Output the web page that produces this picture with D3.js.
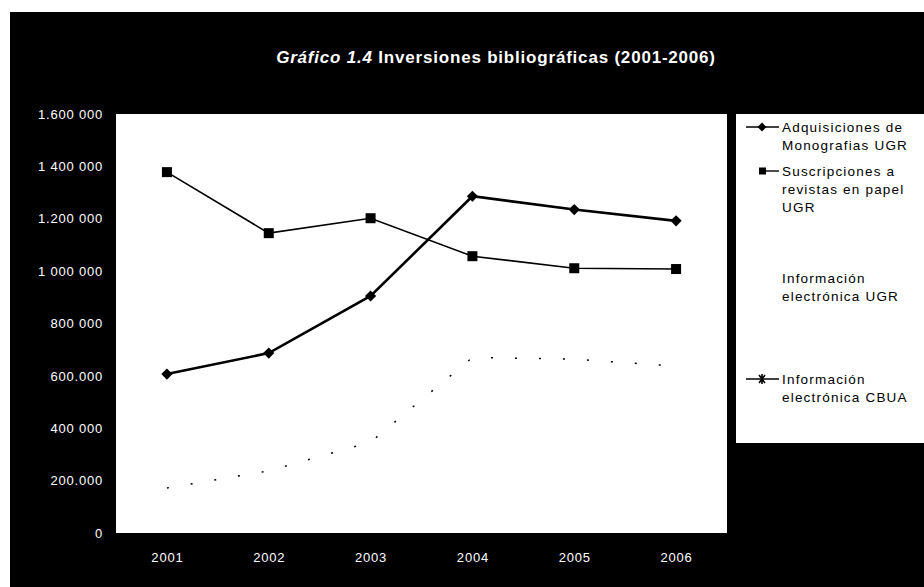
<!DOCTYPE html>
<html>
<head>
<meta charset="utf-8">
<script src="https://cdn.jsdelivr.net/npm/d3@7"></script>
<style>
  body { margin: 0; background: #fff; }
  svg { display: block; font-family: "Liberation Sans", Arial, sans-serif; }
</style>
</head>
<body>
<div id="chart-area"></div>
<script>
// data
const years = ["2001", "2002", "2003", "2004", "2005", "2006"]
const monografias = [607000, 687000, 905000, 1286000, 1235000, 1192000]
const suscripciones = [1378000, 1145000, 1202000, 1057000, 1011000, 1008000]
const electronicaUGR = [] // not visible in the picture
const electronicaCBUA = [172000, 237000, 347000, 670000, 664000, 637000]
const yTicks = [0, 200000, 400000, 600000, 800000, 1000000, 1200000, 1400000, 1600000]
const yTickLabels = ["0", "200.000", "400 000", "600.000", "800 000", "1 000 000", "1.200 000", "1 400 000", "1.600 000"]
const legendNames = [
  ["Adquisiciones de", "Monografias UGR"],
  ["Suscripciones a", "revistas en papel", "UGR"],
  ["Información", "electrónica UGR"],
  ["Información", "electrónica CBUA"]
]

const W = 924, H = 587
const PLOT = { LEFT: 116, RIGHT: 727, TOP: 114, BOTTOM: 533 }

const svg = d3.select("#chart-area").append("svg")
  .attr("width", W)
  .attr("height", H)

// black page background (scan leaves a white strip top/left)
svg.append("rect")
  .attr("x", 10).attr("y", 12)
  .attr("width", W - 10).attr("height", H - 12)
  .attr("fill", "#000")

// plot area
svg.append("rect")
  .attr("x", PLOT.LEFT).attr("y", PLOT.TOP)
  .attr("width", PLOT.RIGHT - PLOT.LEFT).attr("height", PLOT.BOTTOM - PLOT.TOP)
  .attr("fill", "#fff")

// title
const title = svg.append("text")
  .attr("x", 496).attr("y", 63)
  .attr("text-anchor", "middle")
  .attr("fill", "#fff")
  .attr("font-size", "17px")
  .attr("font-weight", "bold")
  .attr("letter-spacing", "0.8px")
title.append("tspan").attr("font-style", "italic").text("Gráfico 1.4")
title.append("tspan").text(" Inversiones bibliográficas (2001-2006)")

// scales
const x = d3.scalePoint().domain(years).range([PLOT.LEFT, PLOT.RIGHT]).padding(0.5)
const y = d3.scaleLinear().domain([0, 1600000]).range([PLOT.BOTTOM, PLOT.TOP])

// axes
const yAxis = svg.append("g")
  .attr("transform", `translate(${PLOT.LEFT}, 0)`)
  .call(d3.axisLeft(y).tickValues(yTicks).tickSize(0).tickPadding(13)
    .tickFormat((d, i) => yTickLabels[i]))
yAxis.select(".domain").remove()
yAxis.selectAll("text").attr("fill", "#fff").attr("font-size", "13px")
  .attr("letter-spacing", "0.8px")
  .attr("font-family", "Liberation Sans, Arial, sans-serif")

const xAxis = svg.append("g")
  .attr("transform", `translate(0, ${PLOT.BOTTOM})`)
  .call(d3.axisBottom(x).tickSize(0).tickPadding(20))
xAxis.select(".domain").remove()
xAxis.selectAll("text").attr("fill", "#fff").attr("font-size", "13px")
  .attr("letter-spacing", "0.8px")
  .attr("font-family", "Liberation Sans, Arial, sans-serif")

const line = d3.line()
  .x((d, i) => x(years[i]))
  .y(d => y(d))

// CBUA series: faded in the scan, only a trail of dots is left
svg.append("path")
  .attr("d", line(electronicaCBUA))
  .attr("fill", "none")
  .attr("stroke", "#000")
  .attr("stroke-width", 1.5)
  .attr("stroke-dasharray", "2 22")

// suscripciones (squares)
svg.append("path")
  .attr("d", line(suscripciones))
  .attr("fill", "none")
  .attr("stroke", "#000")
  .attr("stroke-width", 1.6)
svg.selectAll(".sq").data(suscripciones).join("rect")
  .attr("class", "sq")
  .attr("x", (d, i) => x(years[i]) - 5)
  .attr("y", d => y(d) - 5)
  .attr("width", 10).attr("height", 10)
  .attr("fill", "#000")

// monografias (diamonds)
svg.append("path")
  .attr("d", line(monografias))
  .attr("fill", "none")
  .attr("stroke", "#000")
  .attr("stroke-width", 2.6)
svg.selectAll(".dia").data(monografias).join("path")
  .attr("class", "dia")
  .attr("d", d3.symbol().type(d3.symbolDiamond2).size(80))
  .attr("transform", (d, i) => `translate(${x(years[i])}, ${y(d)})`)
  .attr("fill", "#000")

// legend
svg.append("rect")
  .attr("x", 736).attr("y", 114)
  .attr("width", W - 736).attr("height", 443 - 114)
  .attr("fill", "#fff")

const legendY = [127, 171, 278, 379]
const lg = svg.append("g")
legendNames.forEach((lines, k) => {
  const t = lg.append("text")
    .attr("x", 782).attr("y", legendY[k] + 5)
    .attr("font-size", "13.5px")
    .attr("letter-spacing", "1.2px")
    .attr("fill", "#000")
  lines.forEach((s, j) => {
    t.append("tspan").attr("x", 782).attr("dy", j === 0 ? 0 : 18).text(s)
  })
})
// legend keys
lg.append("line").attr("x1", 746).attr("x2", 779).attr("y1", legendY[0]).attr("y2", legendY[0])
  .attr("stroke", "#000").attr("stroke-width", 1.6)
lg.append("path").attr("d", d3.symbol().type(d3.symbolDiamond2).size(50))
  .attr("transform", `translate(762, ${legendY[0]})`)
lg.append("line").attr("x1", 762).attr("x2", 779).attr("y1", legendY[1]).attr("y2", legendY[1])
  .attr("stroke", "#000").attr("stroke-width", 1.4)
lg.append("rect").attr("x", 759).attr("y", legendY[1] - 3.5).attr("width", 7).attr("height", 7)
lg.append("line").attr("x1", 746).attr("x2", 779).attr("y1", legendY[3]).attr("y2", legendY[3])
  .attr("stroke", "#000").attr("stroke-width", 1.6)
lg.append("path").attr("d", "M759,375 L765,383 M765,375 L759,383 M762,374 L762,384")
  .attr("stroke", "#000").attr("stroke-width", 1.6)
</script>
</body>
</html>
